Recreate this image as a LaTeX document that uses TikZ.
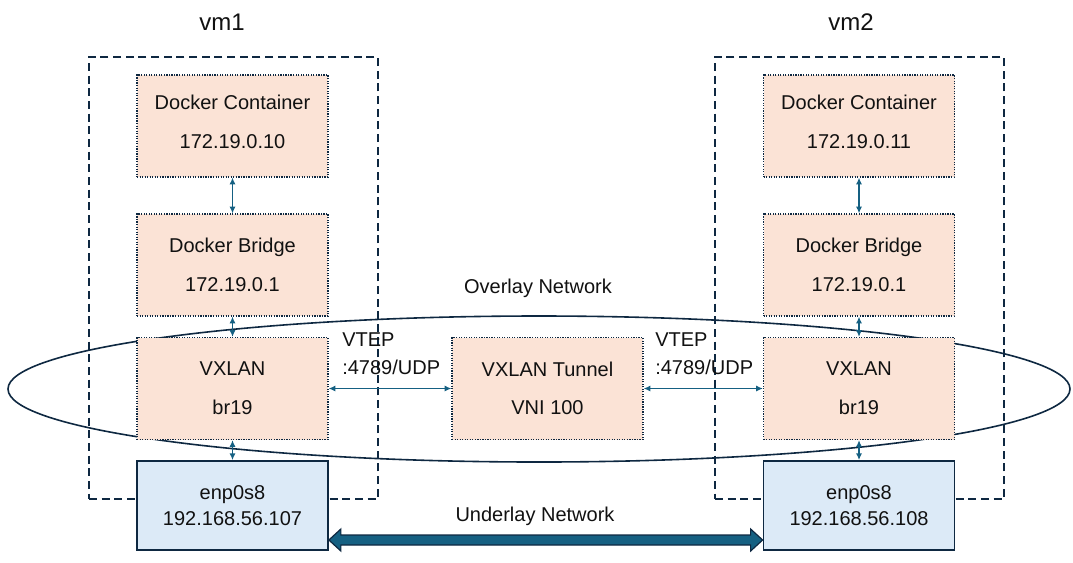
\documentclass[tikz,border=0pt]{standalone}
\usepackage{fontspec}
\setmainfont{Liberation Sans}
\usetikzlibrary{arrows.meta,calc}
\definecolor{peach}{HTML}{FBE3D6}
\definecolor{paleblue}{HTML}{DCEAF7}
\definecolor{navy}{HTML}{0E2841}
\definecolor{teal}{HTML}{156082}
\definecolor{ink}{HTML}{111111}
\begin{document}
\begin{tikzpicture}[x=0.75pt,y={(0pt,-0.75pt)}, font=\fontsize{15}{18}\selectfont, text=ink,
 box/.style={draw=navy, fill=peach, densely dotted, line width=0.9pt, minimum width=143.25pt, minimum height=76.5pt, inner sep=0pt, align=center, font=\fontsize{15}{29}\selectfont},
 raised/.style={text depth=6pt},
 nic/.style={draw=navy, fill=paleblue, line width=1.3pt, minimum width=143.25pt, minimum height=66.75pt, inner sep=0pt, align=center, font=\fontsize{15}{19.5}\selectfont},
 vmbox/.style={draw=navy, dash pattern=on 6pt off 3.5pt, line width=1.1pt, minimum width=216.75pt, minimum height=331.5pt, inner sep=0pt},
 link/.style={draw=teal, line width=1.1pt, {Latex[length=5pt,width=4.5pt]}-{Latex[length=5pt,width=4.5pt]}},
 vmtitle/.style={font=\fontsize{18}{22}\selectfont, inner sep=0pt},
 vtep/.style={anchor=west, align=left, inner sep=0pt, font=\fontsize{15}{21}\selectfont},
 plain/.style={inner sep=0pt}
 ]
\useasboundingbox (0,0) rectangle (1073,562);
% VM frames
\node[vmbox] (vm1) at (233.5,278) {};
\node[vmbox] (vm2) at (859.5,278) {};
\node[vmtitle] (t1) at (222,22) {vm1};
\node[vmtitle] (t2) at (851,22) {vm2};
% overlay ellipse
\draw[navy, line width=1.2pt] (539,389) ellipse [x radius=398.25pt, y radius=54.75pt];
% vm1 column
\node[box, raised] (dc1) at (232.5,126) {Docker Container\\172.19.0.10};
\node[box] (db1) at (232.5,265) {Docker Bridge\\172.19.0.1};
\node[box] (vx1) at (232.5,388.5) {VXLAN\\br19};
\node[nic] (en1) at (232.5,505.5) {enp0s8\\192.168.56.107};
% tunnel
\node[box] (tun) at (547.5,388.5) {VXLAN Tunnel\\VNI 100};
% vm2 column
\node[box, raised] (dc2) at (859,126) {Docker Container\\172.19.0.11};
\node[box] (db2) at (859,265) {Docker Bridge\\172.19.0.1};
\node[box] (vx2) at (859,388.5) {VXLAN\\br19};
\node[nic] (en2) at (859,505.5) {enp0s8\\192.168.56.108};
% labels
\node[vtep] (vt1) at (342,354) {VTEP\\:4789/UDP};
\node[vtep] (vt2) at (655,354) {VTEP\\:4789/UDP};
\node[plain] (ov) at (538,288) {Overlay Network};
\node[plain] (un) at (535,516) {Underlay Network};
% links
\draw[link] (dc1.south) -- (db1.north);
\draw[link] (db1.south) -- (vx1.north);
\draw[link] (vx1.south) -- (en1.north);
\draw[link] (dc2.south) -- (db2.north);
\draw[link] (db2.south) -- (vx2.north);
\draw[link] (vx2.south) -- (en2.north);
\draw[link] (vx1.east) -- (tun.west);
\draw[link] (tun.east) -- (vx2.west);
% underlay block arrow
\coordinate (ul) at ($(en1.east)+(0,34.5)$);
\coordinate (ur) at ($(en2.west)+(0,34.5)$);
\draw[navy, fill=teal, line width=0.9pt, line join=miter] (ul) -- ($(ul)+(12,-11)$) -- ($(ul)+(12,-5)$) -- ($(ur)+(-12,-5)$) -- ($(ur)+(-12,-11)$) -- (ur) -- ($(ur)+(-12,11)$) -- ($(ur)+(-12,5)$) -- ($(ul)+(12,5)$) -- ($(ul)+(12,11)$) -- cycle;
\end{tikzpicture}
\end{document}
